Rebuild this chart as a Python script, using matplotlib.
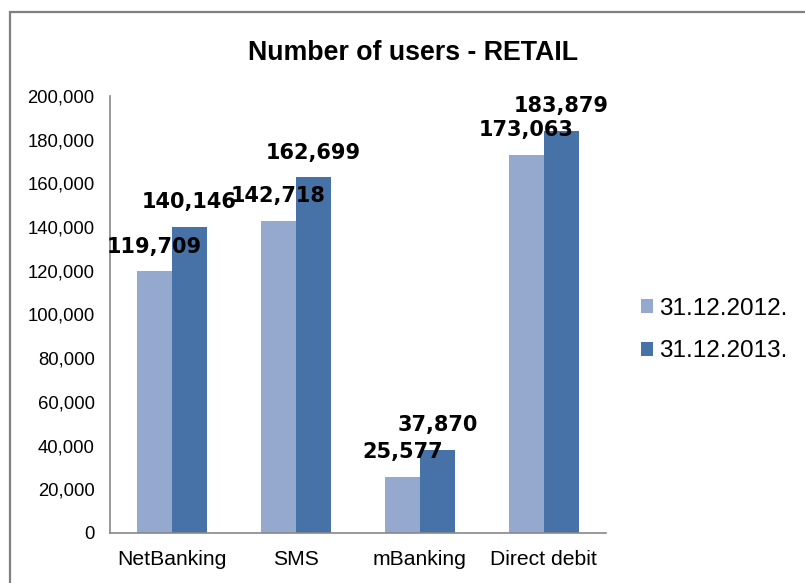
import numpy as np
import matplotlib.pyplot as plt
from matplotlib.patches import Rectangle

categories = ['NetBanking', 'SMS', 'mBanking', 'Direct debit']
users_2012 = [119709, 142718, 25577, 173063]
users_2013 = [140146, 162699, 37870, 183879]
series_names = ['31.12.2012.', '31.12.2013.']
yticks = [0, 20000, 40000, 60000, 80000, 100000, 120000, 140000, 160000, 180000, 200000]

c_light = '#95A9CF'
c_dark = '#4672A7'

fig = plt.figure(figsize=(8.05, 5.83), dpi=100)
ax = fig.add_axes([0.1366, 0.0858, 0.6161, 0.7496])

x = np.arange(len(categories))
w = 0.283
b1 = ax.bar(x - w / 2, users_2012, w, color=c_light, label=series_names[0])
b2 = ax.bar(x + w / 2, users_2013, w, color=c_dark, label=series_names[1])

for bars, vals in ((b1, users_2012), (b2, users_2013)):
    for r, v in zip(bars, vals):
        ax.annotate(f'{v:,}', (r.get_x() + r.get_width() / 2, v),
                    xytext=(0, 13.5), textcoords='offset points',
                    ha='center', va='baseline', fontsize=15,
                    fontweight='bold', family='DejaVu Sans', color='black')

ax.set_xlim(-0.5, 3.5)
ax.set_ylim(0, 200000)
ax.set_yticks(yticks)
ax.set_yticklabels([f'{t:,}' for t in yticks], family='Liberation Sans', fontsize=13.3)
ax.set_xticks(x)
ax.set_xticklabels(categories, family='Liberation Sans', fontsize=15.2)
ax.tick_params(axis='y', length=0, pad=11)
ax.tick_params(axis='x', length=0, pad=12)

for s in ('top', 'right'):
    ax.spines[s].set_visible(False)
for s in ('left', 'bottom'):
    ax.spines[s].set_color('#888888')
    ax.spines[s].set_linewidth(1.2)

fig.text(0.513, 0.909, 'Number of users - RETAIL', ha='center', va='center',
         fontsize=19.3, fontweight='bold', family='Liberation Sans')

fig.legend(handles=[b1, b2], loc='center left', bbox_to_anchor=(0.796, 0.434),
           frameon=False, prop={'family': 'Liberation Sans', 'size': 17.5},
           handlelength=0.5, handleheight=0.5, handletextpad=0.25,
           labelspacing=0.85, borderaxespad=0, borderpad=0)

# outer chart frame (only top and left edges show in the crop)
fig.patches.append(Rectangle((10 / 805, -0.1), 1.2, 1 - 12 / 583 + 0.1,
                             transform=fig.transFigure, fill=False,
                             edgecolor='#808080', linewidth=1.6))

fig.savefig('out.png', dpi=100)
